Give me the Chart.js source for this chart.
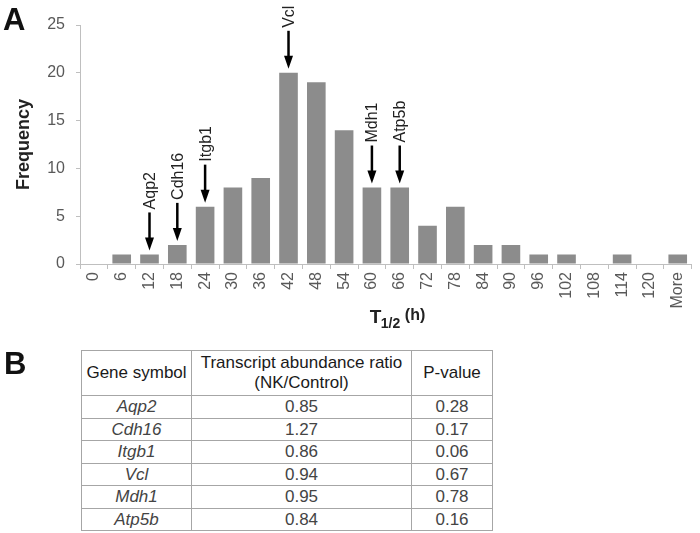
<!DOCTYPE html>
<html>
<head>
<meta charset="utf-8">
<script src="https://cdn.jsdelivr.net/npm/chart.js@4.4.0/dist/chart.umd.min.js"></script>
<style>
  body { margin: 0; background: #fff; font-family: "Liberation Sans", Arial, sans-serif; }
  #page { position: relative; width: 700px; height: 533px; overflow: hidden; }
  #histo { position: absolute; left: 0; top: 0; }
  .panel { position: absolute; font-weight: bold; font-size: 31px; line-height: 1; color: #111; }
  #tbl { position: absolute; left: 81px; top: 350px; border-collapse: collapse; font-size: 17px; color: #444; }
  #tbl td, #tbl th { border: 1px solid #a6a6a6; padding: 0; text-align: center; }
  #tbl th { font-weight: normal; color: #1a1a1a; height: 44px; line-height: 20px; }
  #tbl td { height: 21.5px; line-height: 21px; }
  #tbl td.gene { font-style: italic; }
</style>
</head>
<body>
<div id="page">
  <canvas id="histo" width="700" height="340"></canvas>
  <div class="panel" style="left:3px;top:4px;">A</div>
  <div class="panel" style="left:4px;top:348px;">B</div>
  <table id="tbl">
    <thead><tr><th style="width:109px">Gene symbol</th><th style="width:219px">Transcript abundance ratio<br>(NK/Control)</th><th style="width:80px">P-value</th></tr></thead>
    <tbody id="tblBody"></tbody>
  </table>
</div>
<script>
// --- DATA ---
const binLabels = ['0', '6', '12', '18', '24', '30', '36', '42', '48', '54', '60', '66', '72', '78', '84', '90', '96', '102', '108', '114', '120', 'More'];
const frequencies = [0, 1, 1, 2, 6, 8, 9, 20, 19, 14, 8, 8, 4, 6, 2, 2, 1, 1, 0, 1, 0, 1];
const yTicksMax = 25;
const yTickStep = 5;

const geneSymbols = ['Aqp2', 'Cdh16', 'Itgb1', 'Vcl', 'Mdh1', 'Atp5b'];
const geneBins = ['12', '18', '24', '42', '60', '66'];
const abundanceRatios = ['0.85', '1.27', '0.86', '0.94', '0.95', '0.84'];
const pValues = ['0.28', '0.17', '0.06', '0.67', '0.78', '0.16'];

const FONT = '"Liberation Sans", Arial, sans-serif';

// --- Table B ---
function buildTable() {
  const body = document.getElementById('tblBody');
  geneSymbols.forEach((g, i) => {
    const tr = document.createElement('tr');
    tr.innerHTML = `<td class="gene">${g}</td><td>${abundanceRatios[i]}</td><td>${pValues[i]}</td>`;
    body.appendChild(tr);
  });
}

// arrows + gene names over the marked bins, and the T1/2 axis title
const geneArrows = {
  id: 'geneArrows',
  afterDatasetsDraw(chart) {
    const { ctx, scales: { x, y }, chartArea } = chart;
    ctx.save();
    geneBins.forEach((bin, i) => {
      const idx = binLabels.indexOf(bin);
      const px = x.getPixelForValue(idx);
      const tip = y.getPixelForValue(frequencies[idx]) - 4;
      const tail = tip - 38;
      ctx.strokeStyle = '#000';
      ctx.lineWidth = 2.5;
      ctx.beginPath();
      ctx.moveTo(px, tail);
      ctx.lineTo(px, tip - 10);
      ctx.stroke();
      ctx.fillStyle = '#000';
      ctx.beginPath();
      ctx.moveTo(px - 4.5, tip - 13);
      ctx.lineTo(px + 4.5, tip - 13);
      ctx.lineTo(px, tip);
      ctx.closePath();
      ctx.fill();

      ctx.save();
      ctx.translate(px, tail - 3);
      ctx.rotate(-Math.PI / 2);
      ctx.font = '16px ' + FONT;
      ctx.fillStyle = '#222';
      ctx.textAlign = 'left';
      ctx.textBaseline = 'middle';
      ctx.fillText(geneSymbols[i], 0, 1);
      ctx.restore();
    });

    // x axis title: T 1/2 (h)
    const cx = (chartArea.left + chartArea.right) / 2 - 16;
    ctx.fillStyle = '#222';
    ctx.textAlign = 'left';
    ctx.textBaseline = 'alphabetic';
    ctx.font = 'bold 19px ' + FONT;
    ctx.fillText('T', cx, 323);
    ctx.font = 'bold 14px ' + FONT;
    ctx.fillText('1/2', cx + 11, 328);
    ctx.font = 'bold 16px ' + FONT;
    ctx.fillText('(h)', cx + 35, 320);
    ctx.restore();
  }
};

// --- Chart A ---
function setupChart() {
  Chart.defaults.font.family = FONT;
  const ctx = document.getElementById('histo').getContext('2d');
  new Chart(ctx, {
    type: 'bar',
    data: {
      labels: binLabels,
      datasets: [{
        data: frequencies,
        backgroundColor: '#8c8c8c',
        borderWidth: 0,
        categoryPercentage: 1,
        barPercentage: 0.67
      }]
    },
    options: {
      responsive: false,
      animation: false,
      layout: { padding: { top: 25, right: 3, left: 0, bottom: 0 } },
      plugins: { legend: { display: false }, tooltip: { enabled: false } },
      scales: {
        x: {
          grid: { drawOnChartArea: false, drawTicks: true, tickLength: 5, color: '#bfbfbf', offset: true },
          border: { color: '#bfbfbf' },
          ticks: { minRotation: 90, maxRotation: 90, padding: 3, color: '#595959', font: { size: 16 } },
          afterFit: s => { s.height = 76; }
        },
        y: {
          min: 0,
          max: yTicksMax,
          ticks: { stepSize: yTickStep, padding: 11, color: '#595959', font: { size: 16 } },
          grid: { drawOnChartArea: false, tickLength: 4, color: '#bfbfbf' },
          border: { color: '#bfbfbf' },
          title: { display: true, text: 'Frequency', color: '#222', font: { size: 18, weight: 'bold' }, padding: { top: 13, bottom: 0 } },
          afterFit: s => { s.width = 80; }
        }
      }
    },
    plugins: [geneArrows]
  });
}

window.addEventListener('DOMContentLoaded', () => {
  buildTable();
  setupChart();
});
</script>
</body>
</html>
